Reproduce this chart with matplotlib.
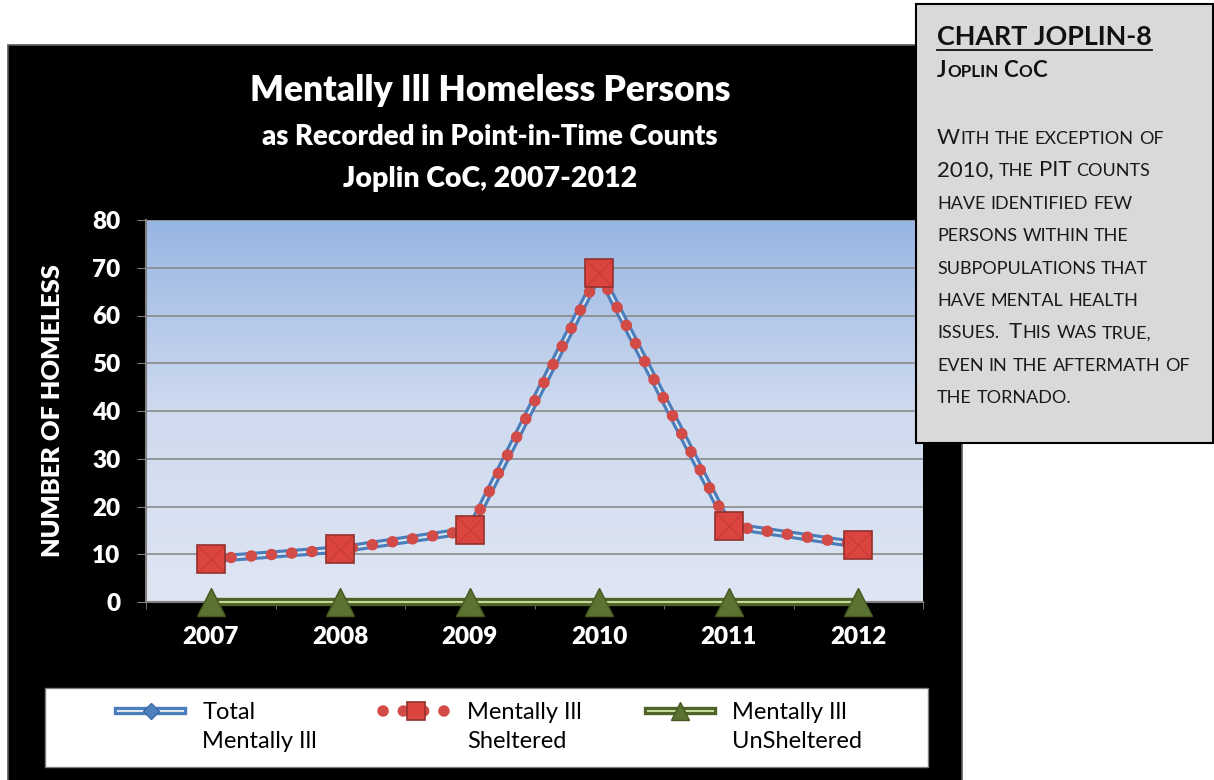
import numpy as np
import matplotlib
matplotlib.use('Agg')
from matplotlib import pyplot as plt
from matplotlib.patches import Rectangle
from matplotlib.lines import Line2D
from matplotlib.legend_handler import HandlerLine2D
from matplotlib.colors import LinearSegmentedColormap
import matplotlib.patheffects as pe

plt.rcParams['font.family'] = ['Lato', 'DejaVu Sans']

# data
years = ['2007', '2008', '2009', '2010', '2011', '2012']
total_ill = [9, 11, 15, 69, 16, 12]
sheltered_ill = [9, 11, 15, 69, 16, 12]
unsheltered_ill = [0, 0, 0, 0, 0, 0]
yticks = [0, 10, 20, 30, 40, 50, 60, 70, 80]

box_lines = ['With the exception of', '2010, the PIT counts', 'have identified few',
             'persons within the', 'subpopulations that', 'have mental health',
             'issues.  This was true,', 'even in the aftermath of', 'the tornado.']

W, H = 1214, 780
fig = plt.figure(figsize=(W / 100, H / 100), dpi=100)

# background layer (black chart area + legend box), pixel coords
bg = fig.add_axes([0, 0, 1, 1], zorder=-1)
bg.set_xlim(0, W)
bg.set_ylim(H, 0)
bg.axis('off')
bg.add_patch(Rectangle((8, 45), 954, 740, fc='black', ec='#595959', lw=1.2))
bg.add_patch(Rectangle((45, 688), 883, 79, fc='white', ec='#7f7f7f', lw=1))

# plot area
ax = fig.add_axes([146 / W, (H - 602) / H, 777 / W, 382 / H])
x = np.arange(len(years))
grad = np.linspace(0, 1, 256).reshape(-1, 1)
cmap = LinearSegmentedColormap.from_list('g', ['#dfe6f3', '#cfdaef', '#98b6e3'])
ax.imshow(grad, extent=[0, 1, 0, 1], transform=ax.transAxes, cmap=cmap,
          aspect='auto', origin='lower', zorder=-1)
ax.patch.set_visible(False)

tot_line, = ax.plot(x, total_ill, color='#dce6f2', lw=1.5, zorder=3,
                    path_effects=[pe.Stroke(linewidth=6, foreground='#4a7ebb'), pe.Normal()])
tot_mk, = ax.plot(x, total_ill, ls='none', marker='D', ms=13, mfc='#4f81bd',
                  mec='#3a6aa8', zorder=3)
sh_line, = ax.plot(x, sheltered_ill, color='#d24b47', lw=8.3, ls=(0, (0.01, 1.75)),
                   dash_capstyle='round', zorder=4)
sh_mk, = ax.plot(x, sheltered_ill, ls='none', marker='s', ms=20, mfc='#dc443f',
                 mec='#93302c', mew=1.2, zorder=5)
ax.plot(x, sheltered_ill, ls='none', marker='x', ms=19, mec='#a8302d', mew=1,
        alpha=0.35, zorder=6)
un_line, = ax.plot(x, unsheltered_ill, color='#c4d79b', lw=1.5, zorder=6, clip_on=False,
                   path_effects=[pe.Stroke(linewidth=6, foreground='#4f6228'), pe.Normal()])
un_mk, = ax.plot(x, unsheltered_ill, ls='none', marker='^', ms=20, mfc='#5b7332',
                 mec='#46581f', mew=1, zorder=7, clip_on=False)

ax.set_xlim(-0.5, len(years) - 0.5)
ax.set_ylim(0, 80)
ax.set_yticks(yticks)
ax.set_xticks(x)
ax.set_xticklabels(years)
ax.set_xticks(np.arange(-0.5, len(years), 1), minor=True)
ax.yaxis.grid(True, color='#8a8a8a', lw=1.2)
ax.set_axisbelow(True)
for s in ['top', 'right']:
    ax.spines[s].set_visible(False)
for s in ['left', 'bottom']:
    ax.spines[s].set_color('#808080')
    ax.spines[s].set_linewidth(1.5)
ax.tick_params(axis='y', length=6.5, color='#808080', pad=12, labelsize=17.5,
               labelcolor='white')
ax.tick_params(axis='x', which='major', length=0, pad=17, labelsize=17.5, labelcolor='white')
ax.tick_params(axis='x', which='minor', length=5, color='#808080')
for lab in ax.get_xticklabels() + ax.get_yticklabels():
    lab.set_fontweight('heavy')
ax.set_ylabel('NUMBER OF HOMELESS', color='white', fontsize=18.3, fontweight='heavy')
ax.yaxis.set_label_coords(-0.105, 0.5)


class UpHandler(HandlerLine2D):
    # put the legend key next to the first line of a two-line label
    def create_artists(self, legend, orig_handle, xdescent, ydescent, width, height,
                       fontsize, trans):
        arts = super().create_artists(legend, orig_handle, xdescent, ydescent, width,
                                      height, fontsize, trans)
        for a in arts:
            a.set_ydata(np.asarray(a.get_ydata()) + 0.7 * fontsize)
        return arts


leg = fig.legend([(tot_line, tot_mk), (sh_line, sh_mk), (un_line, un_mk)],
                 ['Total\nMentally Ill', 'Mentally Ill\nSheltered', 'Mentally Ill\nUnSheltered'],
                 loc='center', bbox_to_anchor=(490 / W, (H - 727) / H), ncol=3,
                 frameon=False, fontsize=17, handlelength=2.75, handletextpad=0.8,
                 columnspacing=2.8, markerscale=0.65, handler_map={Line2D: UpHandler()})
for t in leg.get_texts():
    t.set_linespacing(1.45)

# overlay layer: titles and the side note
tx = fig.add_axes([0, 0, 1, 1], zorder=10)
tx.set_xlim(0, W)
tx.set_ylim(H, 0)
tx.axis('off')
tx.text(490, 101, 'Mentally Ill Homeless Persons', ha='center', va='baseline',
        fontsize=25.5, fontweight='heavy', color='white')
tx.text(490, 145, 'as Recorded in Point-in-Time Counts', ha='center', va='baseline',
        fontsize=19.8, fontweight='heavy', color='white')
tx.text(490, 187, 'Joplin CoC, 2007-2012', ha='center', va='baseline',
        fontsize=20.5, fontweight='heavy', color='white')

tx.add_patch(Rectangle((916, 4), 297, 439, fc='#d9d9d9', ec='black', lw=1.5))
r = fig.canvas.get_renderer()


def text_width(s, size, **kw):
    t = tx.text(0, 0, s, fontsize=size, **kw)
    w = t.get_window_extent(r).width
    t.remove()
    return w


def small_caps(x0, y0, s, big, small, **kw):
    sp = text_width('I I', small, **kw) - text_width('II', small, **kw)
    xx = x0
    for word in s.split(' '):
        if word == '':
            xx += sp
            continue
        runs = []
        for ch in word:
            if ch.islower():
                size = small
            elif ch in '.,' and runs:
                size = runs[-1][1]
            else:
                size = big
            if runs and runs[-1][1] == size:
                runs[-1][0] += ch
            else:
                runs.append([ch, size])
        for run, size in runs:
            t = tx.text(xx, y0, run.upper(), fontsize=size, va='baseline', ha='left', **kw)
            xx += t.get_window_extent(r).width + 0.5
        xx += sp


head = tx.text(937, 45, 'CHART JOPLIN-8', fontsize=19.4, fontweight='bold',
               color='#111111', va='baseline')
bb = head.get_window_extent(r)
tx.plot([bb.x0, bb.x1], [49.5, 49.5], color='#111111', lw=1.3)
small_caps(937, 77, 'Joplin CoC', 16, 12.3, fontweight='bold', color='#111111')

base_y = 144
for i, line in enumerate(box_lines):
    small_caps(937, base_y + i * 32.4, line, 16, 13, color='#1a1a1a')

fig.savefig('out.png', dpi=100)
